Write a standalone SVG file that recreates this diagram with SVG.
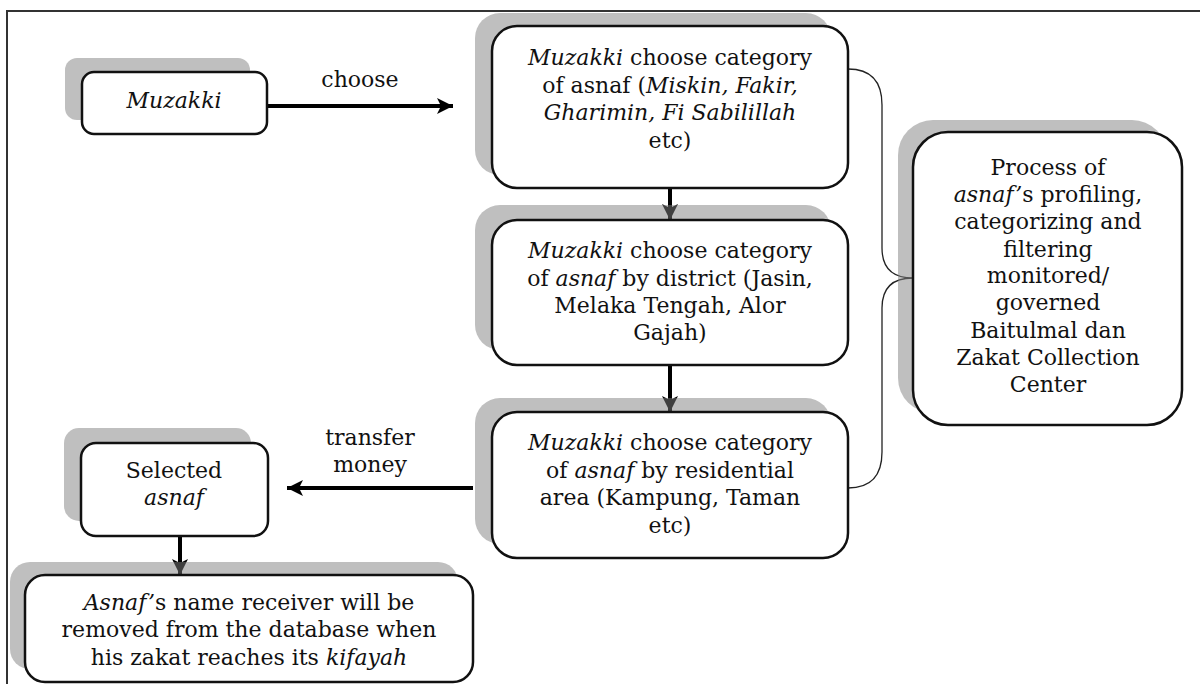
<svg xmlns="http://www.w3.org/2000/svg" width="1200" height="684" viewBox="0 0 1200 684">
<style>
.t{font-family:"DejaVu Serif","Liberation Serif",serif;font-size:22px;fill:#111;text-anchor:middle}
.i{font-style:italic}
.box{fill:#fff;stroke:#111;stroke-width:2.5}
.sh{fill:#808080;fill-opacity:0.5}
.con{stroke:#000;stroke-width:4;fill:none}
.brace{stroke:#222;stroke-width:1.3;fill:none}
</style>
<defs>
<marker id="ah" markerUnits="userSpaceOnUse" markerWidth="18" markerHeight="16" refX="16" refY="8" orient="auto">
<path d="M0,0 L16,8 L0,16 L4,8 Z" fill="#000"/>
</marker>
</defs>
<rect width="1200" height="684" fill="#fff"/>
<path d="M7,684 L7,11 L1200,11" fill="none" stroke="#333" stroke-width="2"/>

<g id="connectors">
<line class="con" x1="267" y1="106" x2="453" y2="106" marker-end="url(#ah)"/>
<line class="con" x1="670" y1="188" x2="670" y2="220" marker-end="url(#ah)"/>
<line class="con" x1="670" y1="365" x2="670" y2="412" marker-end="url(#ah)"/>
<line class="con" x1="473" y1="488" x2="287" y2="488" marker-end="url(#ah)"/>
<line class="con" x1="180" y1="536" x2="180" y2="575" marker-end="url(#ah)"/>
<path class="brace" d="M848,69 Q882,69 882,105 L882,248 Q882,278 913,278 Q882,278 882,308 L882,452 Q882,488 848,488"/>
<text class="t" x="360" y="87">choose</text>
<text class="t" x="370" y="445">transfer</text>
<text class="t" x="370" y="472">money</text>
</g>

<g id="muzakki">
<rect class="sh" x="65" y="58" width="185" height="62" rx="12"/>
<rect class="box" x="82" y="72" width="185" height="62" rx="12"/>
<text class="t i" x="174" y="108">Muzakki</text>
</g>

<g id="category">
<rect class="sh" x="475" y="13" width="356" height="162" rx="25"/>
<rect class="box" x="492" y="26" width="356" height="162" rx="25"/>
<text class="t" x="670" y="65"><tspan class="i">Muzakki</tspan> choose category</text>
<text class="t" x="670" y="93">of asnaf (<tspan class="i">Miskin, Fakir,</tspan></text>
<text class="t i" x="670" y="120">Gharimin, Fi Sabilillah</text>
<text class="t" x="670" y="148">etc)</text>
</g>

<g id="district">
<rect class="sh" x="475" y="205" width="356" height="145" rx="25"/>
<rect class="box" x="492" y="220" width="356" height="145" rx="25"/>
<text class="t" x="670" y="258"><tspan class="i">Muzakki</tspan> choose category</text>
<text class="t" x="670" y="286">of <tspan class="i">asnaf</tspan> by district (Jasin,</text>
<text class="t" x="670" y="313">Melaka Tengah, Alor</text>
<text class="t" x="670" y="340">Gajah)</text>
</g>

<g id="residential">
<rect class="sh" x="475" y="398" width="356" height="146" rx="25"/>
<rect class="box" x="492" y="412" width="356" height="146" rx="25"/>
<text class="t" x="670" y="450"><tspan class="i">Muzakki</tspan> choose category</text>
<text class="t" x="670" y="478">of <tspan class="i">asnaf</tspan> by residential</text>
<text class="t" x="670" y="505">area (Kampung, Taman</text>
<text class="t" x="670" y="533">etc)</text>
</g>

<g id="process">
<rect class="sh" x="898" y="120" width="269" height="293" rx="35"/>
<rect class="box" x="913" y="132" width="269" height="293" rx="35"/>
<text class="t" x="1048" y="175">Process of</text>
<text class="t" x="1048" y="202"><tspan class="i">asnaf’</tspan>s profiling,</text>
<text class="t" x="1048" y="229">categorizing  and</text>
<text class="t" x="1048" y="257">filtering</text>
<text class="t" x="1048" y="283">monitored/</text>
<text class="t" x="1048" y="310">governed</text>
<text class="t" x="1048" y="338">Baitulmal  dan</text>
<text class="t" x="1048" y="365">Zakat Collection</text>
<text class="t" x="1048" y="392">Center</text>
</g>

<g id="selected">
<rect class="sh" x="64" y="428" width="187" height="93" rx="15"/>
<rect class="box" x="81" y="443" width="187" height="93" rx="15"/>
<text class="t" x="174" y="478">Selected</text>
<text class="t i" x="174" y="505">asnaf</text>
</g>

<g id="removed">
<rect class="sh" x="10" y="562" width="448" height="107" rx="20"/>
<rect class="box" x="25" y="575" width="448" height="107" rx="20"/>
<text class="t" x="249" y="610"><tspan class="i">Asnaf’</tspan>s name receiver will be</text>
<text class="t" x="249" y="637">removed from the database when</text>
<text class="t" x="249" y="665">his zakat reaches its <tspan class="i">kifayah</tspan></text>
</g>
</svg>
